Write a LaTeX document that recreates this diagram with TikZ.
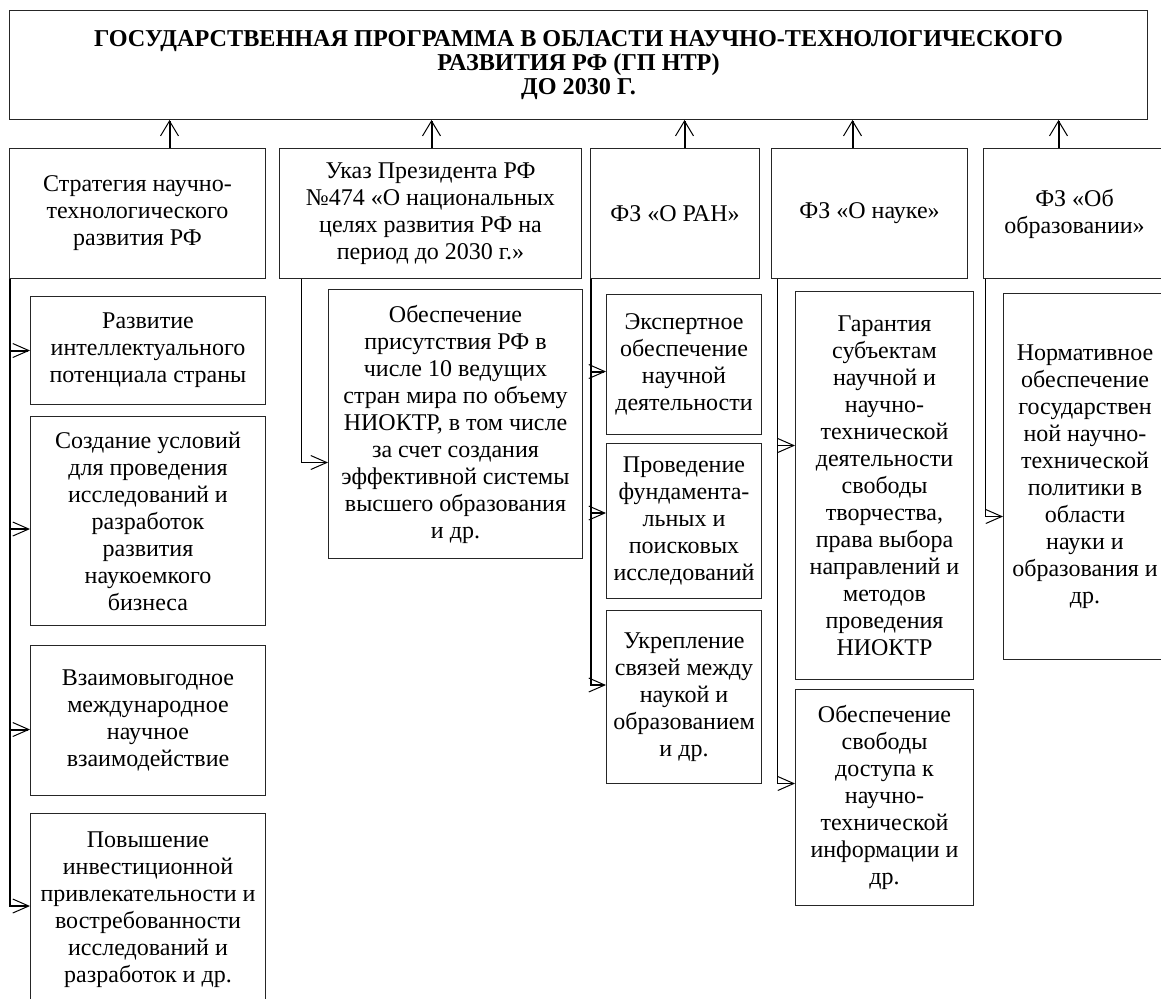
\documentclass[tikz,border=0pt]{standalone}
\usepackage{fontspec}
\setmainfont{Liberation Serif}[BoldFont={Liberation Serif Bold}]
\usetikzlibrary{arrows.meta}

\begin{document}
\begin{tikzpicture}[x=1pt,y=-1pt,
		box/.style={draw=black!85,line width=0.5pt,anchor=north west,align=center,inner sep=0pt,font=\fontsize{12}{13.5}\selectfont},
		up/.style={line width=1pt,-{Straight Barb[length=7.5pt,width=9pt,line width=0.5pt]}},
		thickbr/.style={line width=1pt,-{Straight Barb[length=8pt,width=7pt,line width=0.5pt]}},
		thinbr/.style={line width=0.5pt,-{Straight Barb[length=8pt,width=7pt]}}]
	\useasboundingbox (0,0) rectangle (580.5,499);
	
	\node[box,minimum width=569pt,minimum height=54.5pt,font=\fontsize{12.1}{12.2}\selectfont\bfseries] (gp) at (4.5,5) {ГОСУДАРСТВЕННАЯ ПРОГРАММА В ОБЛАСТИ НАУЧНО-ТЕХНОЛОГИЧЕСКОГО\\РАЗВИТИЯ РФ (ГП НТР)\\ДО 2030 Г.};
	
	\node[box,minimum width=128pt,minimum height=65pt] (strat) at (4.5,74) {Стратегия научно-\\технологического\\развития РФ};
	\node[box,minimum width=151pt,minimum height=65pt] (ukaz) at (139.5,74) {Указ Президента РФ\\№474 «О национальных\\целях развития РФ на\\период до 2030 г.»};
	\node[box,minimum width=84.5pt,minimum height=65pt] (ran) at (295,74) {ФЗ «О РАН»};
	\node[box,minimum width=98pt,minimum height=65pt] (nauka) at (385.5,74) {ФЗ «О науке»};
	\node[box,minimum width=91pt,minimum height=65pt] (obr) at (491.5,74) {ФЗ «Об\\образовании»};
	
	\draw[up] ([xshift=16pt]strat.north) -- ([xshift=16pt]strat.north |- gp.south);
	\draw[up] ([xshift=0.5pt]ukaz.north) -- ([xshift=0.5pt]ukaz.north |- gp.south);
	\draw[up] ([xshift=4.75pt]ran.north) -- ([xshift=4.75pt]ran.north |- gp.south);
	\draw[up] ([xshift=-8.5pt]nauka.north) -- ([xshift=-8.5pt]nauka.north |- gp.south);
	\draw[up] ([xshift=-8pt]obr.north) -- ([xshift=-8pt]obr.north |- gp.south);
	
	\node[box,minimum width=117.5pt,minimum height=54pt] (s1) at (15,148) {Развитие\\интеллектуального\\потенциала страны};
	\node[box,minimum width=117.5pt,minimum height=104.5pt] (s2) at (15,208) {Создание условий\\для проведения\\исследований и\\разработок\\развития\\наукоемкого\\бизнеса};
	\node[box,minimum width=117.5pt,minimum height=75pt] (s3) at (15,322.5) {Взаимовыгодное\\международное\\научное\\взаимодействие};
	\node[box,minimum width=117.5pt,minimum height=96.5pt] (s4) at (15,406.5) {Повышение\\инвестиционной\\привлекательности и\\востребованности\\исследований и\\разработок и др.};
	
	\node[box,minimum width=127pt,minimum height=134.5pt] (u1) at (164,144.5) {Обеспечение\\присутствия РФ в\\числе 10 ведущих\\стран мира по объему\\НИОКТР, в том числе\\за счет создания\\эффективной системы\\высшего образования\\и др.};
	
	\node[box,minimum width=77.5pt,minimum height=70pt] (r1) at (303,147) {Экспертное\\обеспечение\\научной\\деятельности};
	\node[box,minimum width=77.5pt,minimum height=77.5pt] (r2) at (303,221.5) {Проведение\\фундамента-\\льных и\\поисковых\\исследований};
	\node[box,minimum width=77.5pt,minimum height=86.5pt] (r3) at (303,305) {Укрепление\\связей между\\наукой и\\образованием\\и др.};
	
	\node[box,minimum width=89pt,minimum height=194pt] (n1) at (397.5,145.5) {Гарантия\\субъектам\\научной и\\научно-\\технической\\деятельности\\свободы\\творчества,\\права выбора\\направлений и\\методов\\проведения\\НИОКТР};
	\node[box,minimum width=89pt,minimum height=108pt] (n2) at (397.5,344.5) {Обеспечение\\свободы\\доступа к\\научно-\\технической\\информации и\\др.};
	
	\node[box,minimum width=81.5pt,minimum height=183pt] (o1) at (501.5,146.5) {Нормативное\\обеспечение\\государствен\\ной научно-\\технической\\политики в\\области\\науки и\\образования и\\др.};
	
	% strategy branch
	\draw[thickbr] ([xshift=0.5pt]strat.south west) |- ([yshift=2pt]s4.west);
	\draw[thickbr] ([xshift=0.5pt]strat.south west |- s1.west) -- (s1.west);
	\draw[thickbr] ([xshift=0.5pt,yshift=-4pt]strat.south west |- s2.west) -- ([yshift=-4pt]s2.west);
	\draw[thickbr] ([xshift=0.5pt,yshift=-4.5pt]strat.south west |- s3.west) -- ([yshift=-4.5pt]s3.west);
	
	% decree branch
	\draw[thinbr] ([xshift=11.25pt]ukaz.south west) |- ([yshift=-19.25pt]u1.west);
	
	% RAN branch
	\draw[thickbr] ([xshift=0.5pt]ran.south west) |- ([yshift=6pt]r3.west);
	\draw[thickbr] ([xshift=0.5pt,yshift=-3.5pt]ran.south west |- r1.west) -- ([yshift=-3.5pt]r1.west);
	\draw[thickbr] ([xshift=0.5pt,yshift=4pt]ran.south west |- r2.west) -- ([yshift=4pt]r2.west);
	
	% science branch
	\draw[thinbr] ([xshift=3.25pt]nauka.south west) |- ([yshift=7pt]n2.west);
	\draw[thinbr] ([xshift=3.25pt,yshift=20pt]nauka.south west |- n1.west) -- ([yshift=20pt]n1.west);
	
	% education branch
	\draw[thinbr] ([xshift=1pt]obr.south west) |- ([yshift=-20pt]o1.west);
\end{tikzpicture}
\end{document}
